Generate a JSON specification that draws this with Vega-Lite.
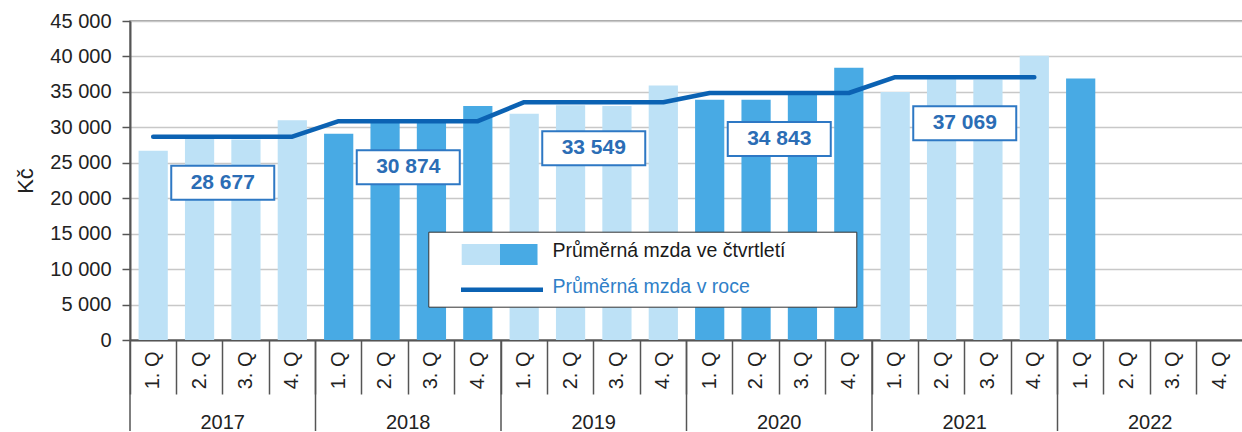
{
  "$schema": "https://vega.github.io/schema/vega-lite/v6.json",
  "width": 1113,
  "height": 319,
  "padding": {"left": 14, "top": 11, "right": 0, "bottom": 0},
  "data": {
    "values": [
      {"obdobi": "2017 1. Q", "rok": "2017", "mzda": 26700, "rocni": 28677},
      {"obdobi": "2017 2. Q", "rok": "2017", "mzda": 28400, "rocni": 28677},
      {"obdobi": "2017 3. Q", "rok": "2017", "mzda": 28300, "rocni": 28677},
      {"obdobi": "2017 4. Q", "rok": "2017", "mzda": 31000, "rocni": 28677},
      {"obdobi": "2018 1. Q", "rok": "2018", "mzda": 29100, "rocni": 30874},
      {"obdobi": "2018 2. Q", "rok": "2018", "mzda": 30700, "rocni": 30874},
      {"obdobi": "2018 3. Q", "rok": "2018", "mzda": 30600, "rocni": 30874},
      {"obdobi": "2018 4. Q", "rok": "2018", "mzda": 33000, "rocni": 30874},
      {"obdobi": "2019 1. Q", "rok": "2019", "mzda": 31900, "rocni": 33549},
      {"obdobi": "2019 2. Q", "rok": "2019", "mzda": 33100, "rocni": 33549},
      {"obdobi": "2019 3. Q", "rok": "2019", "mzda": 33000, "rocni": 33549},
      {"obdobi": "2019 4. Q", "rok": "2019", "mzda": 35900, "rocni": 33549},
      {"obdobi": "2020 1. Q", "rok": "2020", "mzda": 33900, "rocni": 34843},
      {"obdobi": "2020 2. Q", "rok": "2020", "mzda": 33900, "rocni": 34843},
      {"obdobi": "2020 3. Q", "rok": "2020", "mzda": 34700, "rocni": 34843},
      {"obdobi": "2020 4. Q", "rok": "2020", "mzda": 38400, "rocni": 34843},
      {"obdobi": "2021 1. Q", "rok": "2021", "mzda": 35000, "rocni": 37069},
      {"obdobi": "2021 2. Q", "rok": "2021", "mzda": 36800, "rocni": 37069},
      {"obdobi": "2021 3. Q", "rok": "2021", "mzda": 36700, "rocni": 37069},
      {"obdobi": "2021 4. Q", "rok": "2021", "mzda": 40100, "rocni": 37069},
      {"obdobi": "2022 1. Q", "rok": "2022", "mzda": 36900, "rocni": null},
      {"obdobi": "2022 2. Q", "rok": "2022", "mzda": null, "rocni": null},
      {"obdobi": "2022 3. Q", "rok": "2022", "mzda": null, "rocni": null},
      {"obdobi": "2022 4. Q", "rok": "2022", "mzda": null, "rocni": null}
    ]
  },
  "layer": [
    {
      "mark": {"type": "bar", "width": {"band": 0.63}},
      "encoding": {
        "x": {
          "field": "obdobi", "type": "nominal", "sort": null,
          "scale": {
            "domain": ["2017 1. Q","2017 2. Q","2017 3. Q","2017 4. Q","2018 1. Q","2018 2. Q","2018 3. Q","2018 4. Q","2019 1. Q","2019 2. Q","2019 3. Q","2019 4. Q","2020 1. Q","2020 2. Q","2020 3. Q","2020 4. Q","2021 1. Q","2021 2. Q","2021 3. Q","2021 4. Q","2022 1. Q","2022 2. Q","2022 3. Q","2022 4. Q"],
            "paddingInner": 0, "paddingOuter": 0
          },
          "axis": {
            "title": null, "grid": false,
            "domainColor": "#555", "domainWidth": 2,
            "bandPosition": 0, "tickSize": 54, "tickColor": "#555", "tickWidth": 1.5,
            "labelAngle": 270, "labelPadding": -43, "labelFontSize": 20, "labelColor": "#222",
            "labelExpr": "substring(datum.value, 5)"
          }
        },
        "y": {
          "field": "mzda", "type": "quantitative",
          "scale": {"domain": [0, 45000], "nice": false, "zero": true},
          "axis": {
            "title": "Kč", "titleFontSize": 22, "titleFontWeight": "normal", "titleColor": "#222", "titlePadding": 12,
            "values": [0,5000,10000,15000,20000,25000,30000,35000,40000,45000],
            "tickCount": 10, "labelOverlap": false,
            "format": ",d", "labelFontSize": 20, "labelColor": "#222", "labelPadding": 11,
            "domainColor": "#555", "domainWidth": 2,
            "tickSize": 8, "tickColor": "#555", "tickWidth": 1.5,
            "grid": true, "gridWidth": 1.5, "gridColor": "#c8c8c8"
          }
        },
        "color": {
          "field": "rok", "type": "nominal",
          "scale": {"domain": ["2017","2018","2019","2020","2021","2022"], "range": ["#bde1f6","#48aae4","#bde1f6","#48aae4","#bde1f6","#48aae4"]},
          "legend": null
        },
        "opacity": {
          "datum": "Průměrná mzda ve čtvrtletí", "type": "nominal",
          "scale": {"domain": ["Průměrná mzda ve čtvrtletí", "Průměrná mzda v roce"], "range": [1, 1]},
          "legend": {
            "title": null, "orient": "none", "legendX": 298.3, "legendY": 210.7,
            "direction": "vertical", "columns": 1,
            "padding": 7, "strokeColor": "#333", "fillColor": "white",
            "rowPadding": -16,
            "symbolSize": 400, "symbolStrokeWidth": 4.5, "symbolDash": [186, 3000],
            "symbolOffset": 54.2,
            "symbolFillColor": "#bde1f6", "symbolOpacity": 1,
            "symbolStrokeColor": {"expr": "datum.value === 'Průměrná mzda v roce' ? '#0b62b3' : '#48aae4'"},
            "symbolType": {"expr": "datum.value === 'Průměrná mzda v roce' ? 'M33.8,0.26M-4.1,0.26L4.1,0.26' : 'M-0.2,-0.495L3.325,-0.495L3.325,-0.0825L0.025,-0.0825L0.025,0.33L3.325,0.33L3.325,0.7425L0.025,0.7425L0.025,1.155L3.55,1.155L3.55,1.38L-4.03,1.38L-4.03,-0.72L-0.2,-0.72Z'"},
            "labelColor": {"expr": "datum.value === 'Průměrná mzda v roce' ? '#2f80c8' : '#1a1a1a'"},
            "labelFontSize": 19.5, "labelOffset": 38, "labelLimit": 600
          }
        }
      }
    },
    {
      "mark": {"type": "line", "color": "#0b62b3", "strokeWidth": 4.5, "strokeCap": "round", "strokeJoin": "round"},
      "encoding": {
        "x": {"field": "obdobi", "type": "nominal", "sort": null},
        "y": {"field": "rocni", "type": "quantitative"}
      }
    },
    {
      "transform": [{"filter": "indexof(datum.obdobi, '2. Q') > 0 && isValid(datum.rocni)"}],
      "mark": {"type": "point", "shape": "M-1,-0.33L1,-0.33L1,0.33L-1,0.33Z", "size": 10609, "filled": true, "fill": "white", "stroke": "#2e78c4", "strokeWidth": 2, "opacity": 1, "yOffset": 46},
      "encoding": {
        "x": {"field": "obdobi", "type": "nominal", "sort": null, "bandPosition": 1},
        "y": {"field": "rocni", "type": "quantitative"}
      }
    },
    {
      "transform": [{"filter": "indexof(datum.obdobi, '2. Q') > 0 && isValid(datum.rocni)"}],
      "mark": {"type": "text", "fontSize": 21, "fontWeight": "bold", "color": "#2b6db5", "yOffset": 46, "baseline": "middle", "align": "center"},
      "encoding": {
        "x": {"field": "obdobi", "type": "nominal", "sort": null, "bandPosition": 1},
        "y": {"field": "rocni", "type": "quantitative"},
        "text": {"field": "rocni", "type": "quantitative", "format": ",d"}
      }
    },
    {
      "transform": [{"filter": "indexof(datum.obdobi, '2. Q') > 0"}],
      "mark": {"type": "text", "fontSize": 20, "color": "#222", "yOffset": 83, "baseline": "middle", "align": "center"},
      "encoding": {
        "x": {"field": "obdobi", "type": "nominal", "sort": null, "bandPosition": 1},
        "y": {"datum": 0, "type": "quantitative"},
        "text": {"field": "rok", "type": "nominal"}
      }
    },
    {
      "transform": [{"filter": "indexof(datum.obdobi, '1. Q') > 0"}],
      "mark": {"type": "rule", "color": "#555", "strokeWidth": 1.5, "y2Offset": 91},
      "encoding": {
        "x": {"field": "obdobi", "type": "nominal", "sort": null, "bandPosition": 0},
        "y": {"datum": 0, "type": "quantitative"},
        "y2": {"datum": 0}
      }
    }
  ],
  "config": {
    "font": "Liberation Sans",
    "view": {"stroke": "#888888", "strokeWidth": 1.5},
    "locale": {"number": {"decimal": ",", "thousands": " ", "grouping": [3], "currency": ["", " Kč"]}}
  }
}
